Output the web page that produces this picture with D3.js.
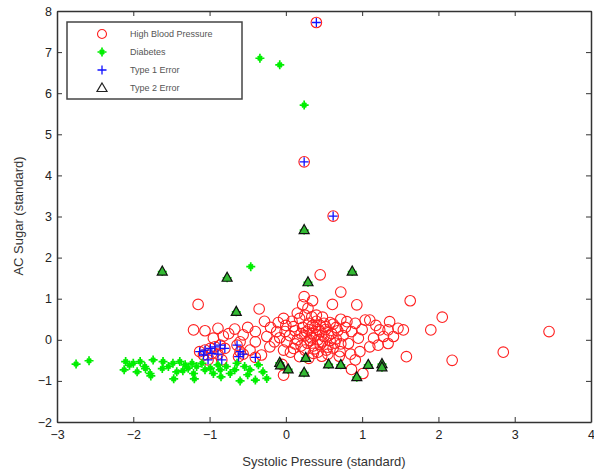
<!DOCTYPE html>
<html><head><meta charset="utf-8">
<script src="https://cdn.jsdelivr.net/npm/d3@7"></script>
<style>body{margin:0;background:#fff}svg{display:block}</style>
</head><body>
<svg id="c" width="594" height="471"></svg>
<script>
const xTicks = [-3,-2,-1,0,1,2,3,4];
const yTicks = [-2,-1,0,1,2,3,4,5,6,7,8];
const legendLabels = ["High Blood Pressure","Diabetes","Type 1 Error","Type 2 Error"];

const highBP = [
[0.45,1.58],[0.72,1.16],[0.24,1.05],[0.61,0.86],[0.93,0.85],[1.63,0.95],[2.05,0.55],[1.90,0.24],
[2.18,-0.50],[2.85,-0.30],[3.45,0.20],[1.58,-0.41],[1.01,-0.82],[-0.03,-0.86],
[-1.15,0.86],[-0.35,0.75],[-1.21,0.24],[-1.06,0.22],[-0.89,0.28],[-0.67,0.26],[-0.95,0.04],
[-0.82,0.09],[-0.56,0.12],[-0.40,0.20],[-0.40,-0.05],[-0.25,0.08],[-0.21,-0.17],[-0.32,-0.37],
[-0.47,-0.25],[-0.03,0.52],[0.29,0.77],[0.34,0.56],[0.18,0.52],[0.10,0.32],[-0.01,0.20],
[0.01,-0.05],[0.10,-0.21],[-0.03,-0.25],[0.80,0.44],[0.91,0.40],[0.86,0.20],[0.95,0.04],
[0.82,-0.09],[1.04,0.48],[1.10,0.48],[1.23,0.24],[1.36,0.44],[1.34,0.24],[1.47,0.28],[1.54,0.24],
[1.15,0.04],[1.28,0.08],[1.41,0.08],[1.10,-0.17],[1.21,-0.13],[1.34,-0.09],[0.91,-0.49],
[0.86,-0.72],[0.97,-0.29],[0.71,-0.29],[0.53,-0.25],[0.36,-0.33],[0.18,-0.41],
[0.22,0.30],[0.30,0.25],[0.38,0.30],[0.45,0.20],[0.52,0.25],[0.60,0.15],[0.68,0.22],[0.75,0.10],
[0.25,0.10],[0.33,0.05],[0.42,0.00],[0.50,0.08],[0.58,-0.02],[0.66,0.02],[0.72,-0.10],
[0.28,-0.08],[0.36,-0.15],[0.45,-0.12],[0.55,-0.18],[0.62,-0.20],[0.30,0.40],[0.40,0.45],
[0.50,0.40],[0.20,0.15],[0.15,0.00],[0.12,-0.10],[0.05,0.10],[0.00,0.35],[0.08,0.45],
[0.15,0.65],[0.25,0.60],[0.40,0.60],[0.48,0.55],[0.35,0.15],[0.45,0.35],[0.62,0.38],
[0.55,-0.35],[0.42,-0.30],[0.25,-0.25],[0.70,-0.40],[0.78,0.30],[-0.12,0.20],[-0.15,-0.05],
[-0.10,0.42],[-0.20,0.30],[-0.75,0.15],[-0.60,-0.05],[-0.05,-0.60],
[0.27,0.20],[0.32,-0.02],[0.40,0.12],[0.48,-0.05],[0.56,0.10],[0.64,-0.08],[0.35,0.35],
[0.43,0.25],[0.52,0.32],[0.58,0.42],[0.20,-0.15],[0.38,-0.22],[0.47,-0.40],[0.30,-0.45],
[0.66,0.30],[0.72,0.50],[0.12,0.22],[0.06,-0.30],[-0.08,0.05],[0.85,-0.35],[1.00,0.25],
[1.18,0.35],[0.22,0.85],[0.35,0.95],[-0.28,0.45],[-0.50,0.30]
];

const diabetes = [
[-0.34,6.85],[-0.08,6.69],[0.24,5.71],[-0.46,1.78],
[-2.75,-0.59],[-2.58,-0.51],[-2.10,-0.53],[-2.12,-0.73],[-2.05,-0.62],[-1.95,-0.78],[-1.84,-0.70],
[-1.77,-0.88],[-2.00,-0.57],[-1.91,-0.53],[-1.85,-0.65],[-1.78,-0.82],[-1.74,-0.49],[-1.61,-0.53],
[-1.54,-0.65],[-1.48,-0.57],[-1.43,-0.78],[-1.39,-0.53],[-1.32,-0.61],[-1.28,-0.69],[-1.23,-0.57],
[-1.21,-0.82],[-1.17,-0.65],[-1.10,-0.57],[-1.06,-0.73],[-0.99,-0.69],[-0.95,-0.82],[-0.89,-0.61],
[-0.86,-0.73],[-0.78,-0.65],[-0.73,-0.82],[-0.67,-0.73],[-0.64,-0.57],[-0.54,-0.65],[-0.47,-0.73],
[-0.40,-0.98],[-0.36,-0.61],[-0.30,-0.78],[-0.25,-0.94],[-1.47,-0.95],[-1.20,-0.95],[-0.85,-0.90],
[-0.60,-1.00],[-1.62,-0.70],[-1.35,-0.75],[-0.50,-0.85]
];

const type1 = [
[0.40,7.72],[0.24,4.33],[0.62,3.01],
[-1.13,-0.29],[-1.06,-0.25],[-0.99,-0.21],[-0.93,-0.17],[-0.86,-0.13],[-0.80,-0.21],[-1.08,-0.37],
[-0.97,-0.33],[-0.89,-0.35],[-1.02,-0.49],[-0.84,-0.49],[-0.64,-0.13],[-0.60,-0.29],[-0.56,-0.35],
[-0.62,-0.41],[-0.40,-0.43]
];

const type2 = [
[0.24,2.67],[-1.62,1.66],[-0.77,1.51],[0.29,1.40],[0.87,1.66],[-0.65,0.68],
[-0.08,-0.56],[-0.07,-0.62],[0.03,-0.72],[0.26,-0.44],[0.24,-0.80],[0.56,-0.60],[0.72,-0.61],
[0.93,-0.91],[1.08,-0.61],[1.26,-0.59],[1.26,-0.67]
];

const svg = d3.select("#c");
const x = d3.scaleLinear().domain([-3,4]).range([57,591]);
const y = d3.scaleLinear().domain([-2,8]).range([422,11]);
const axisCol = "#333";
const font = "Arial, 'Liberation Sans', sans-serif";

function styleAxis(g, labels){
  g.selectAll("path.domain").attr("stroke",axisCol).attr("stroke-width",1.5);
  g.selectAll(".tick line").attr("stroke",axisCol).attr("stroke-width",1);
  g.selectAll(".tick text").attr("fill","#222").style("font-family",font).style("font-size","12.5px");
  if(!labels) g.selectAll(".tick text").remove();
}
svg.append("g").attr("transform","translate(0,422)")
  .call(d3.axisBottom(x).tickValues(xTicks).tickSize(-5).tickSizeOuter(0).tickPadding(8).tickFormat(d3.format("d")))
  .call(g=>styleAxis(g,true));
svg.append("g").attr("transform","translate(0,11)")
  .call(d3.axisTop(x).tickValues(xTicks).tickSize(-5).tickSizeOuter(0))
  .call(g=>styleAxis(g,false));
svg.append("g").attr("transform","translate(57,0)")
  .call(d3.axisLeft(y).tickValues(yTicks).tickSize(-5).tickSizeOuter(0).tickPadding(5).tickFormat(d3.format("d")))
  .call(g=>styleAxis(g,true));
svg.append("g").attr("transform","translate(591,0)")
  .call(d3.axisRight(y).tickValues(yTicks).tickSize(-5).tickSizeOuter(0))
  .call(g=>styleAxis(g,false));

const plot = svg.append("g");
plot.selectAll("circle.hbp").data(highBP.concat(type1)).join("circle")
  .attr("cx",d=>x(d[0])).attr("cy",d=>y(d[1])).attr("r",5.3)
  .attr("fill","none").attr("stroke","#ff2020").attr("stroke-width",1.1);

const starPath = "M-4.5,0H4.5M0,-4.5V4.5M-2.2,-2.2L2.2,2.2M-2.2,2.2L2.2,-2.2";
plot.selectAll("path.dia").data(diabetes.concat(type2)).join("path")
  .attr("transform",d=>`translate(${x(d[0])},${y(d[1])})`)
  .attr("d",starPath).attr("stroke","#00ee00").attr("stroke-width",1.7).attr("fill","none");

const plusPath = "M-4.5,0H4.5M0,-4.5V4.5";
plot.selectAll("path.t1").data(type1).join("path")
  .attr("transform",d=>`translate(${x(d[0])},${y(d[1])})`)
  .attr("d",plusPath).attr("stroke","#1010ff").attr("stroke-width",1.3).attr("fill","none");

const triPath = "M0,-5.5L5,3.5L-5,3.5Z";
plot.selectAll("path.t2").data(type2).join("path")
  .attr("transform",d=>`translate(${x(d[0])},${y(d[1])})`)
  .attr("d",triPath).attr("stroke","#111").attr("stroke-width",1.2).attr("fill","#33bb33");

const lg = svg.append("g");
lg.append("rect").attr("x",67).attr("y",22).attr("width",175).attr("height",77)
  .attr("fill","#fff").attr("stroke","#444").attr("stroke-width",1.5);
const rowsY = [34,52,70,88];
const mk = [
  g=>g.append("circle").attr("r",4.5).attr("fill","none").attr("stroke","#ff2020").attr("stroke-width",1.1),
  g=>g.append("path").attr("d",starPath).attr("stroke","#00ee00").attr("stroke-width",1.7),
  g=>g.append("path").attr("d",plusPath).attr("stroke","#1010ff").attr("stroke-width",1.3),
  g=>g.append("path").attr("d","M0,-5L5,3.5L-5,3.5Z").attr("stroke","#222").attr("stroke-width",1.2).attr("fill","none")
];
legendLabels.forEach((t,i)=>{
  const g = lg.append("g").attr("transform",`translate(102,${rowsY[i]})`);
  mk[i](g);
  lg.append("text").attr("x",130).attr("y",rowsY[i]).attr("dy","0.35em")
    .style("font-family",font).style("font-size","9px").attr("fill","#555").text(t);
});

svg.append("text").attr("x",324).attr("y",466).attr("text-anchor","middle")
  .style("font-family",font).style("font-size","13px").attr("fill","#333")
  .text("Systolic Pressure (standard)");
svg.append("text").attr("transform","translate(23,216) rotate(-90)").attr("text-anchor","middle")
  .style("font-family",font).style("font-size","13px").attr("fill","#333")
  .text("AC Sugar (standard)");
</script>
</body></html>
